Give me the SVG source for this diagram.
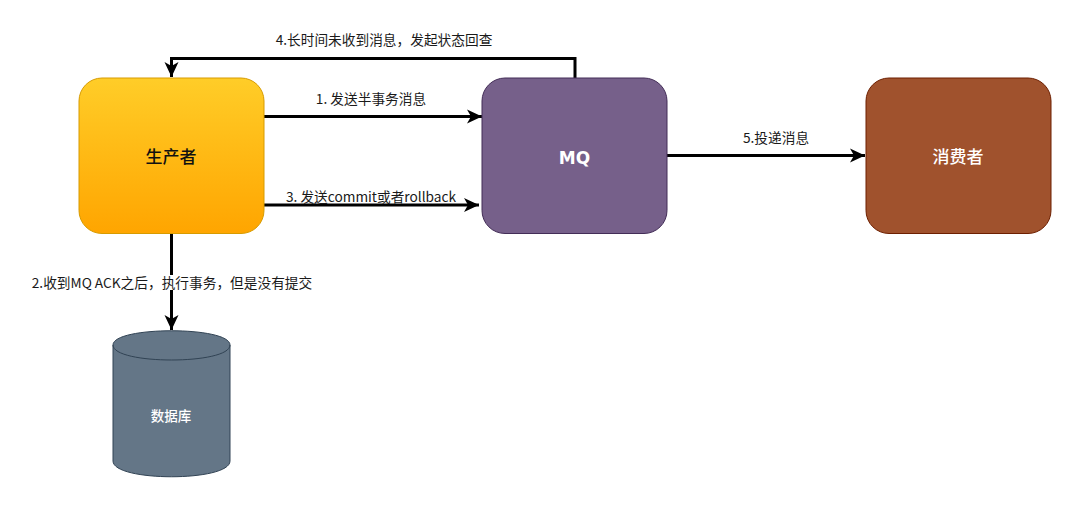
<svg xmlns="http://www.w3.org/2000/svg" width="1080" height="506" viewBox="0 0 1080 506">
<style>
text{font-family:"Noto Sans CJK SC","Noto Sans",sans-serif;text-anchor:middle}
.l{font-size:13.700px;fill:#1a1a1a}
.n{font-size:17px;font-weight:500}
.c{fill:none;stroke:#000;stroke-width:3}
</style>
<defs>
<linearGradient id="g" x1="0" y1="0" x2="0" y2="1"><stop offset="0" stop-color="#ffcd28"/><stop offset="1" stop-color="#ffa500"/></linearGradient>
<marker id="a" markerUnits="userSpaceOnUse" markerWidth="18" markerHeight="18" refX="15" refY="9" orient="auto"><path d="M0 2L15 9L0 16L4 9Z" fill="#000"/></marker>
</defs>
<rect width="1080" height="506" fill="#fff"/>
<g id="connectors">
<path class="c" d="M575 78V58.500H171.500V77" marker-end="url(#a)"/>
<path class="c" d="M264 116.500H482" marker-end="url(#a)"/>
<path class="c" d="M264 205H479" marker-end="url(#a)"/>
<path class="c" d="M171.500 233V330" marker-end="url(#a)"/>
<path class="c" d="M667 155.500H865" marker-end="url(#a)"/>
</g>
<g id="producer"><rect x="79" y="78" width="185" height="155.500" rx="23" fill="url(#g)" stroke="#d79b00" stroke-width="1"/><text class="n" x="171" y="163" fill="#111">生产者</text></g>
<g id="mq"><rect x="482" y="78" width="185" height="155.500" rx="23" fill="#76608a" stroke="#432d57" stroke-width="1"/><text x="574.500" y="164" fill="#fff" font-size="17" font-weight="700" style="font-family:'DejaVu Sans',sans-serif">MQ</text></g>
<g id="consumer"><rect x="866" y="78" width="185" height="155.500" rx="23" fill="#a0522d" stroke="#6d1f00" stroke-width="1"/><text class="n" x="958" y="163" fill="#fff">消费者</text></g>
<g id="database">
<path d="M113 345C113 326 230 326 230 345V461C230 482 113 482 113 461Z" fill="#647687" stroke="#314354"/>
<path d="M113 345C113 365 230 365 230 345" fill="none" stroke="#314354"/>
<text x="171" y="421" font-size="13.500" font-weight="500" fill="#fff">数据库</text>
</g>
<g id="labels">
<rect x="30" y="275" width="284" height="15" fill="#fff"/>
<text class="l" x="384" y="45">4.长时间未收到消息，发起状态回查</text>
<text class="l" x="371" y="104">1. 发送半事务消息</text>
<text class="l" x="371" y="202">3. 发送commit或者rollback</text>
<text class="l" x="172" y="288">2.收到MQ ACK之后，执行事务，但是没有提交</text>
<text class="l" x="776" y="143">5.投递消息</text>
</g>
</svg>
